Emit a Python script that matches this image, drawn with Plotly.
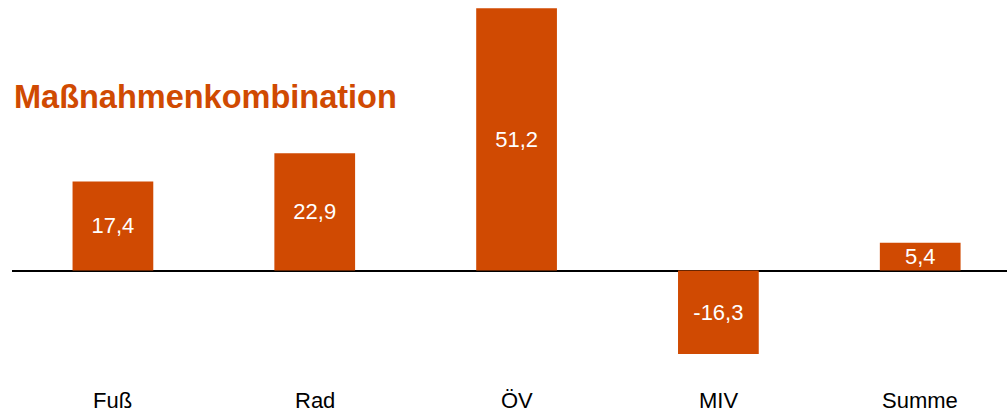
import plotly.graph_objects as go

# Veränderung je Verkehrsmittel bei der Maßnahmenkombination
kategorien = ["Fuß", "Rad", "ÖV", "MIV", "Summe"]
werte = [17.4, 22.9, 51.2, -16.3, 5.4]
beschriftung = [f"{v:.1f}".replace(".", ",") for v in werte]

ORANGE = "#D04A02"
FONT = "Liberation Sans, Arial, sans-serif"

fig = go.Figure(
    go.Bar(
        x=kategorien,
        y=werte,
        width=0.4,
        marker=dict(color=ORANGE, line=dict(width=0)),
        text=beschriftung,
        textposition="inside",
        insidetextanchor="middle",
        textfont=dict(color="white", size=22, family=FONT),
        hoverinfo="skip",
    )
)

# Kategorienamen unterhalb der Balken
for k in kategorien:
    fig.add_annotation(
        x=k, y=-25.4, xref="x", yref="y",
        text=k, showarrow=False,
        font=dict(size=22, color="black", family=FONT),
        xanchor="center", yanchor="middle",
    )

fig.add_annotation(
    x=0, y=(413 - 97) / 413, xref="paper", yref="paper",
    text="<b>Maßnahmenkombination</b>", showarrow=False,
    font=dict(size=32.5, color=ORANGE, family=FONT),
    xanchor="left", yanchor="middle",
)

fig.update_layout(
    width=1007, height=413,
    margin=dict(l=12, r=0, t=0, b=0),
    paper_bgcolor="white", plot_bgcolor="white",
    showlegend=False,
    uniformtext=dict(minsize=22, mode="show"),
    xaxis=dict(
        range=[-0.5, 4.43], showticklabels=False, showgrid=False,
        zeroline=False, showline=False, ticks="",
    ),
    yaxis=dict(
        range=[-27.83, 52.83], showticklabels=False, showgrid=False,
        zeroline=True, zerolinecolor="black", zerolinewidth=2,
        showline=False, ticks="",
    ),
)

fig.write_html("out.html")
